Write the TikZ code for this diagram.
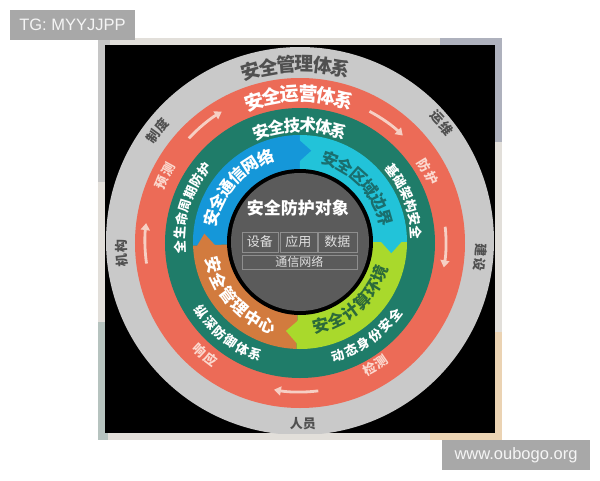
\documentclass[tikz,border=0pt]{standalone}
\usepackage{fontspec}
\setmainfont{Noto Sans CJK SC}
\newfontfamily\latinfont{Liberation Sans}
\usetikzlibrary{arrows.meta}

\definecolor{ringgray}{HTML}{C9C9C9}
\definecolor{ringred}{HTML}{EC6B57}
\definecolor{ringteal}{HTML}{1F7C69}
\definecolor{qblue}{HTML}{1597D9}
\definecolor{qcyan}{HTML}{22C3D9}
\definecolor{qlime}{HTML}{A9D92C}
\definecolor{qorange}{HTML}{D27B3E}
\definecolor{coregray}{HTML}{5B5B5B}
\definecolor{boxline}{HTML}{8E8E8E}
\definecolor{graytext}{HTML}{505050}
\definecolor{pinktext}{HTML}{FBD9CF}
\definecolor{arrowpink}{HTML}{F6CFC4}
\definecolor{cyantext}{HTML}{1A6E6E}
\definecolor{limetext}{HTML}{2C6A3A}
\definecolor{wmgray}{HTML}{A8A8A8}
\definecolor{framebg}{HTML}{E2DFDA}
\definecolor{fragblue}{HTML}{AEB1BD}
\definecolor{fragbeige}{HTML}{EBD3B3}
\definecolor{fraggreen}{HTML}{B6C3BF}
\definecolor{fraggray}{HTML}{C6C6C6}

% text placed character by character on an arc
% #1 radius, #2 centre angle, #3 step, #4 count, #5 style, #6 name, #7 list
\newcommand{\ArcOut}[7]{%
  \foreach \ch [count=\i] in {#7} {
    \pgfmathsetmacro{\ang}{#2+(#4-1)/2*#3-(\i-1)*#3}
    \node[#5, rotate=\ang-90] (#6-\i) at (\ang:#1) {\ch};
  }}
\newcommand{\ArcIn}[7]{%
  \foreach \ch [count=\i] in {#7} {
    \pgfmathsetmacro{\ang}{#2-(#4-1)/2*#3+(\i-1)*#3}
    \node[#5, rotate=\ang+90] (#6-\i) at (\ang:#1) {\ch};
  }}

\tikzset{
  chr/.style={inner sep=0pt, outer sep=0pt},
  bigtitle/.style={chr, font=\fontsize{19}{19}\selectfont\bfseries},
  midtitle/.style={chr, font=\fontsize{16.5}{16.5}\selectfont\bfseries},
  quadtext/.style={chr, font=\fontsize{16.5}{16.5}\selectfont\bfseries},
  smalltext/.style={chr, font=\fontsize{13}{13}\selectfont\bfseries},
  flowarrow/.style={draw=arrowpink, line width=2.8pt, -{Triangle[length=7pt,width=9pt]}},
  objbox/.style={draw=boxline, line width=0.8pt, fill=coregray, text=white!88!black,
    inner sep=0pt, font=\fontsize{13}{13}\selectfont},
  wmbox/.style={fill=wmgray, text=white!96!black, inner sep=0pt,
    font=\latinfont\fontsize{16.5}{16.5}\selectfont}
}

\begin{document}
\begin{tikzpicture}[x=1pt, y=1pt]
\useasboundingbox (-300,-238) rectangle (300,242);
\fill[white] (-300,-238) rectangle (300,242);

% photo frame and fragments round the square
\fill[framebg] (-202,204) rectangle (202,-198);
\fill[fragblue] (140,204) rectangle (202,100);
\fill[fragbeige] (130,-185) rectangle (202,-198);
\fill[fragbeige] (190,-90) rectangle (202,-198);
\fill[fraggreen] (-202,-80) rectangle (-192,-198);
\fill[fraggray] (-202,204) rectangle (-190,60);

% black square
\fill[black] (-195,197) rectangle (195,-191);

% grey ring
\begin{scope}
  \clip (-195,197) rectangle (195,-191);
  \fill[ringgray] (0,1) circle[radius=194];
\end{scope}
% red ring
\fill[ringred] (0,-1) circle[radius=165];
% teal ring
\fill[ringteal] (0,-1) circle[radius=135];

% four coloured quadrants
\fill[qblue] (90:107) arc[start angle=90, end angle=182, radius=107]
  -- (182:72) arc[start angle=182, end angle=90, radius=72] -- cycle;
\fill[qcyan] (0:107) arc[start angle=0, end angle=90, radius=107]
  -- (90:72) arc[start angle=90, end angle=0, radius=72] -- cycle;
\fill[qlime] (-92:107) arc[start angle=-92, end angle=0, radius=107]
  -- (0:72) arc[start angle=0, end angle=-92, radius=72] -- cycle;
\fill[qorange] (182:107) arc[start angle=182, end angle=268, radius=107]
  -- (268:72) arc[start angle=268, end angle=182, radius=72] -- cycle;
% arrow points between quadrants
\fill[qblue] (91:103) -- (83:92) -- (91:80) -- cycle;
\fill[qcyan] (1:103) -- (-7:92) -- (1:80) -- cycle;
\fill[qlime] (-91:103) -- (-99:90) -- (-91:78) -- cycle;
\fill[qorange] (183:104) -- (175:96) -- (183:84) -- cycle;

% centre
\fill[black] (0,0) circle[radius=73];
\fill[coregray] (0,0) circle[radius=69];

\node[chr, text=white, font=\fontsize{17}{17}\selectfont\bfseries] (core) at (-2,34) {安全防护对象};
\node[objbox, minimum width=36pt, minimum height=20pt] (dev) at (-40,0) {设备};
\node[objbox, minimum width=37pt, minimum height=20pt] (app) at (-1.5,0) {应用};
\node[objbox, minimum width=39pt, minimum height=20pt] (dat) at (37.5,0) {数据};
\node[objbox, minimum width=115pt, minimum height=14pt, font=\fontsize{12}{12}\selectfont] (net) at (-0.5,-20) {通信网络};

% flow arrows in the red ring
\draw[flowarrow] (137:152) arc[start angle=137, end angle=121, radius=152];
\draw[flowarrow] (62:148) arc[start angle=62, end angle=46, radius=148];
\draw[flowarrow] (6:146) arc[start angle=6, end angle=-10, radius=146];
\draw[flowarrow] (-83:150) arc[start angle=-83, end angle=-100, radius=150];
\draw[flowarrow] (188:155) arc[start angle=188, end angle=173, radius=155];

% grey ring texts
\ArcOut{178}{91.5}{5.9}{6}{bigtitle, text=graytext}{mg}{安,全,管,理,体,系}
\ArcOut{181}{142}{4.6}{2}{smalltext, text=graytext}{zd}{制,度}
\ArcOut{185}{40}{4.6}{2}{smalltext, text=graytext}{yw}{运,维}
\ArcOut{181}{-4.8}{4.6}{2}{smalltext, text=graytext}{js}{建,设}
\ArcOut{179}{183.5}{4.6}{2}{smalltext, text=graytext}{jg}{机,构}
\node[smalltext, text=graytext] (ry) at (3,-182) {人员};

% red ring texts
\ArcOut{148}{90.4}{7.1}{6}{bigtitle, text=white}{op}{安,全,运,营,体,系}
\ArcOut{146}{28.7}{5.5}{2}{smalltext, text=pinktext}{fh}{防,护}
\ArcOut{150}{154}{5.5}{2}{smalltext, text=pinktext}{yc}{预,测}
\ArcIn{145}{-58.5}{5.5}{2}{smalltext, text=pinktext}{jc}{检,测}
\ArcIn{148}{230}{5.5}{2}{smalltext, text=pinktext}{xy}{响,应}

% teal ring texts
\ArcOut{117}{90}{7.7}{6}{midtitle, text=white}{te}{安,全,技,术,体,系}
\ArcOut{120}{162.5}{6.6}{7}{smalltext, text=white}{qs}{全,生,命,周,期,防,护}
\ArcOut{117}{21.25}{6.6}{6}{smalltext, text=white}{jj}{基,础,架,构,安,全}
\ArcIn{121}{232}{6.6}{6}{smalltext, text=white}{zs}{纵,深,防,御,体,系}
\ArcIn{120}{-54.5}{6.8}{6}{smalltext, text=white}{dt}{动,态,身,份,安,全}

% quadrant texts
\ArcOut{91.5}{138.5}{10.5}{6}{quadtext, text=white}{tx}{安,全,通,信,网,络}
\ArcOut{88}{43}{10.8}{6}{quadtext, text=cyantext}{qy}{安,全,区,域,边,界}
\ArcIn{89.5}{222}{10.8}{6}{quadtext, text=white}{gl}{安,全,管,理,中,心}
\ArcIn{86}{-48.6}{10.8}{6}{quadtext, text=limetext}{js2}{安,全,计,算,环,境}

% watermarks
\node[wmbox, minimum width=125pt, minimum height=30pt] (tg) at (-227.5,217) {TG: MYYJJPP};
\node[wmbox, minimum width=148pt, minimum height=30pt] (www) at (216,-213) {www.oubogo.org};
\end{tikzpicture}
\end{document}
